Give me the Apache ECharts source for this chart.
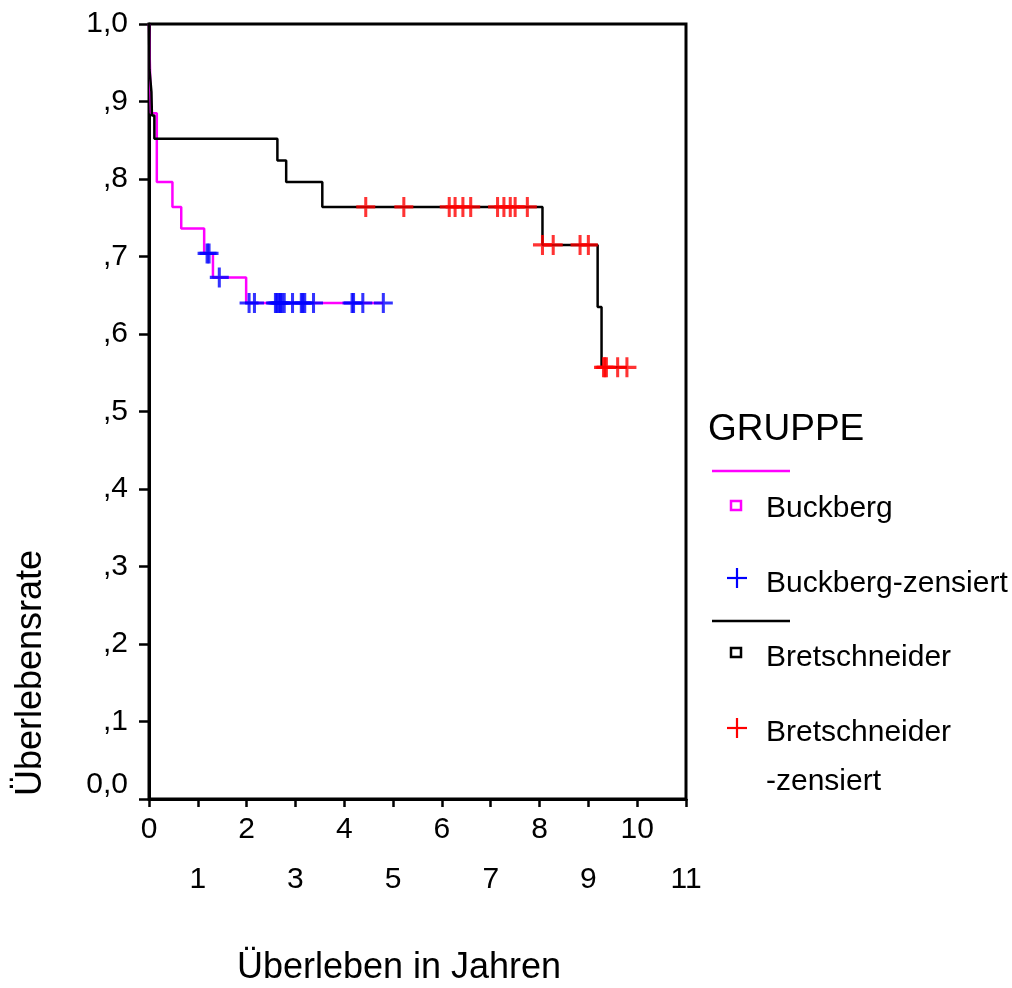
<!DOCTYPE html>
<html>
<head>
<meta charset="utf-8">
<script src="https://cdn.jsdelivr.net/npm/echarts@6/dist/echarts.min.js"></script>
<style>
  html, body { margin: 0; padding: 0; background: #fff; }
  #chart { width: 1012px; height: 988px; }
</style>
</head>
<body>
<div id="chart"></div>
<script>
// Kaplan-Meier steps: time in years, survival after the event at that time
const buckTime = [0, 0.04, 0.16, 0.48, 0.66, 1.13, 1.31, 1.99, 4.80];
const buckSurv = [1.000, 0.885, 0.796, 0.764, 0.736, 0.704, 0.673, 0.640, 0.640];

const bretTime = [0, 0.005, 0.01, 0.05, 0.06, 0.07, 0.11, 2.63, 2.81, 3.55, 8.06, 9.19, 9.27, 9.79];
const bretSurv = [1.000, 0.971, 0.941, 0.912, 0.882, 0.882, 0.852, 0.824, 0.796, 0.764, 0.715, 0.635, 0.557, 0.557];

// censored cases
const buckCensTime = [1.19, 1.23, 1.44, 2.05, 2.16, 2.59, 2.62, 2.66, 2.69, 2.72, 2.77,
  2.94, 3.12, 3.15, 3.19, 3.37, 4.16, 4.19, 4.38, 4.80];
const buckCensSurv = [0.704, 0.704, 0.673, 0.640, 0.640, 0.640, 0.640, 0.640, 0.640, 0.640, 0.640,
  0.640, 0.640, 0.640, 0.640, 0.640, 0.640, 0.640, 0.640, 0.640];

const bretCensTime = [4.44, 5.22, 6.15, 6.27, 6.43, 6.59, 7.14, 7.27, 7.40, 7.50, 7.75,
  8.06, 8.28, 8.83, 9.00, 9.31, 9.34, 9.37, 9.60, 9.79];
const bretCensSurv = [0.764, 0.764, 0.764, 0.764, 0.764, 0.764, 0.764, 0.764, 0.764, 0.764, 0.764,
  0.715, 0.715, 0.715, 0.715, 0.557, 0.557, 0.557, 0.557, 0.557];

const legendNames = ["Buckberg", "Buckberg-zensiert", "Bretschneider", "Bretschneider", "-zensiert"];

const FONT = "'Liberation Sans', Arial, sans-serif";
const PLUS = "path://M42,0H58V42H100V58H58V100H42V58H0V42H42Z";

function pairs(xs, ys) {
  return xs.map((x, i) => [x, ys[i]]);
}

var chart = echarts.init(document.getElementById("chart"));
var option = {
  backgroundColor: "#fff",
  animation: false,
  grid: {
    left: 149, right: 326, top: 24, bottom: 189,
    show: true, borderColor: "#000", borderWidth: 3,
  },
  xAxis: {
    type: "value", min: 0, max: 11, interval: 1,
    axisLine: { show: true, onZero: false, lineStyle: { color: "#000", width: 3 } },
    axisTick: { show: true, length: 8, lineStyle: { color: "#000", width: 2.5 } },
    splitLine: { show: false },
    axisLabel: {
      color: "#000", fontSize: 30, fontFamily: FONT, lineHeight: 50, margin: 6,
      formatter: function (v) {
        return v % 2 ? "\n" + v : "" + v;
      },
    },
  },
  yAxis: {
    type: "value", min: 0, max: 1, interval: 0.1,
    axisLine: { show: true, lineStyle: { color: "#000", width: 3 } },
    axisTick: { show: true, length: 10, lineStyle: { color: "#000", width: 2.5 } },
    splitLine: { show: false },
    axisLabel: {
      color: "#000", fontSize: 30, fontFamily: FONT, margin: 21,
      formatter: function (v) {
        if (v === 0) return "{z|0,0}";
        if (v === 1) return "1,0";
        return "," + Math.round(v * 10);
      },
      rich: {
        z: { fontSize: 30, fontFamily: FONT, color: "#000", padding: [0, 0, 28, 0] },
      },
    },
  },
  series: [
    {
      name: "Buckberg", type: "line", step: "end", showSymbol: false,
      data: pairs(buckTime, buckSurv),
      lineStyle: { color: "#ff00ff", width: 2.5 }, z: 2,
    },
    {
      name: "Bretschneider", type: "line", step: "end", showSymbol: false,
      data: pairs(bretTime, bretSurv),
      lineStyle: { color: "#000", width: 2.5 }, z: 3,
    },
    {
      name: "Buckberg-zensiert", type: "scatter", symbol: PLUS, symbolSize: [19, 20],
      data: pairs(buckCensTime, buckCensSurv),
      itemStyle: { color: "#0000ff" }, z: 4,
    },
    {
      name: "Bretschneider-zensiert", type: "scatter", symbol: PLUS, symbolSize: [19, 20],
      data: pairs(bretCensTime, bretCensSurv),
      itemStyle: { color: "#ff0000" }, z: 5,
    },
  ],
  graphic: [
    // axis titles
    { type: "text", x: 399, y: 968,
      style: { text: "Überleben in Jahren", fill: "#000", font: "36px " + FONT,
        textAlign: "center", textVerticalAlign: "middle" } },
    { type: "text", x: 31, y: 673, rotation: Math.PI / 2,
      style: { text: "Überlebensrate", fill: "#000", font: "36px " + FONT,
        textAlign: "center", textVerticalAlign: "middle" } },
    // legend
    { type: "text", x: 708, y: 430,
      style: { text: "GRUPPE", fill: "#000", font: "37px " + FONT,
        textAlign: "left", textVerticalAlign: "middle" } },
    { type: "line", shape: { x1: 712, y1: 471, x2: 790, y2: 471 },
      style: { stroke: "#ff00ff", lineWidth: 2.5 } },
    { type: "rect", shape: { x: 731, y: 501, width: 10, height: 9 },
      style: { fill: "none", stroke: "#ff00ff", lineWidth: 2.5 } },
    { type: "text", x: 766, y: 509,
      style: { text: legendNames[0], fill: "#000", font: "30px " + FONT,
        textAlign: "left", textVerticalAlign: "middle" } },
    { type: "line", shape: { x1: 727, y1: 578, x2: 747, y2: 578 },
      style: { stroke: "#0000ff", lineWidth: 2.2 } },
    { type: "line", shape: { x1: 737, y1: 568, x2: 737, y2: 588 },
      style: { stroke: "#0000ff", lineWidth: 2.2 } },
    { type: "text", x: 766, y: 584,
      style: { text: legendNames[1], fill: "#000", font: "30px " + FONT,
        textAlign: "left", textVerticalAlign: "middle" } },
    { type: "line", shape: { x1: 712, y1: 621, x2: 790, y2: 621 },
      style: { stroke: "#000", lineWidth: 2.5 } },
    { type: "rect", shape: { x: 731, y: 648, width: 10, height: 9 },
      style: { fill: "none", stroke: "#000", lineWidth: 2.5 } },
    { type: "text", x: 766, y: 658,
      style: { text: legendNames[2], fill: "#000", font: "30px " + FONT,
        textAlign: "left", textVerticalAlign: "middle" } },
    { type: "line", shape: { x1: 727, y1: 728, x2: 747, y2: 728 },
      style: { stroke: "#ff0000", lineWidth: 2.2 } },
    { type: "line", shape: { x1: 737, y1: 718, x2: 737, y2: 738 },
      style: { stroke: "#ff0000", lineWidth: 2.2 } },
    { type: "text", x: 766, y: 733,
      style: { text: legendNames[3], fill: "#000", font: "30px " + FONT,
        textAlign: "left", textVerticalAlign: "middle" } },
    { type: "text", x: 766, y: 782,
      style: { text: legendNames[4], fill: "#000", font: "30px " + FONT,
        textAlign: "left", textVerticalAlign: "middle" } },
  ],
};
option && chart.setOption(option);
</script>
</body>
</html>
